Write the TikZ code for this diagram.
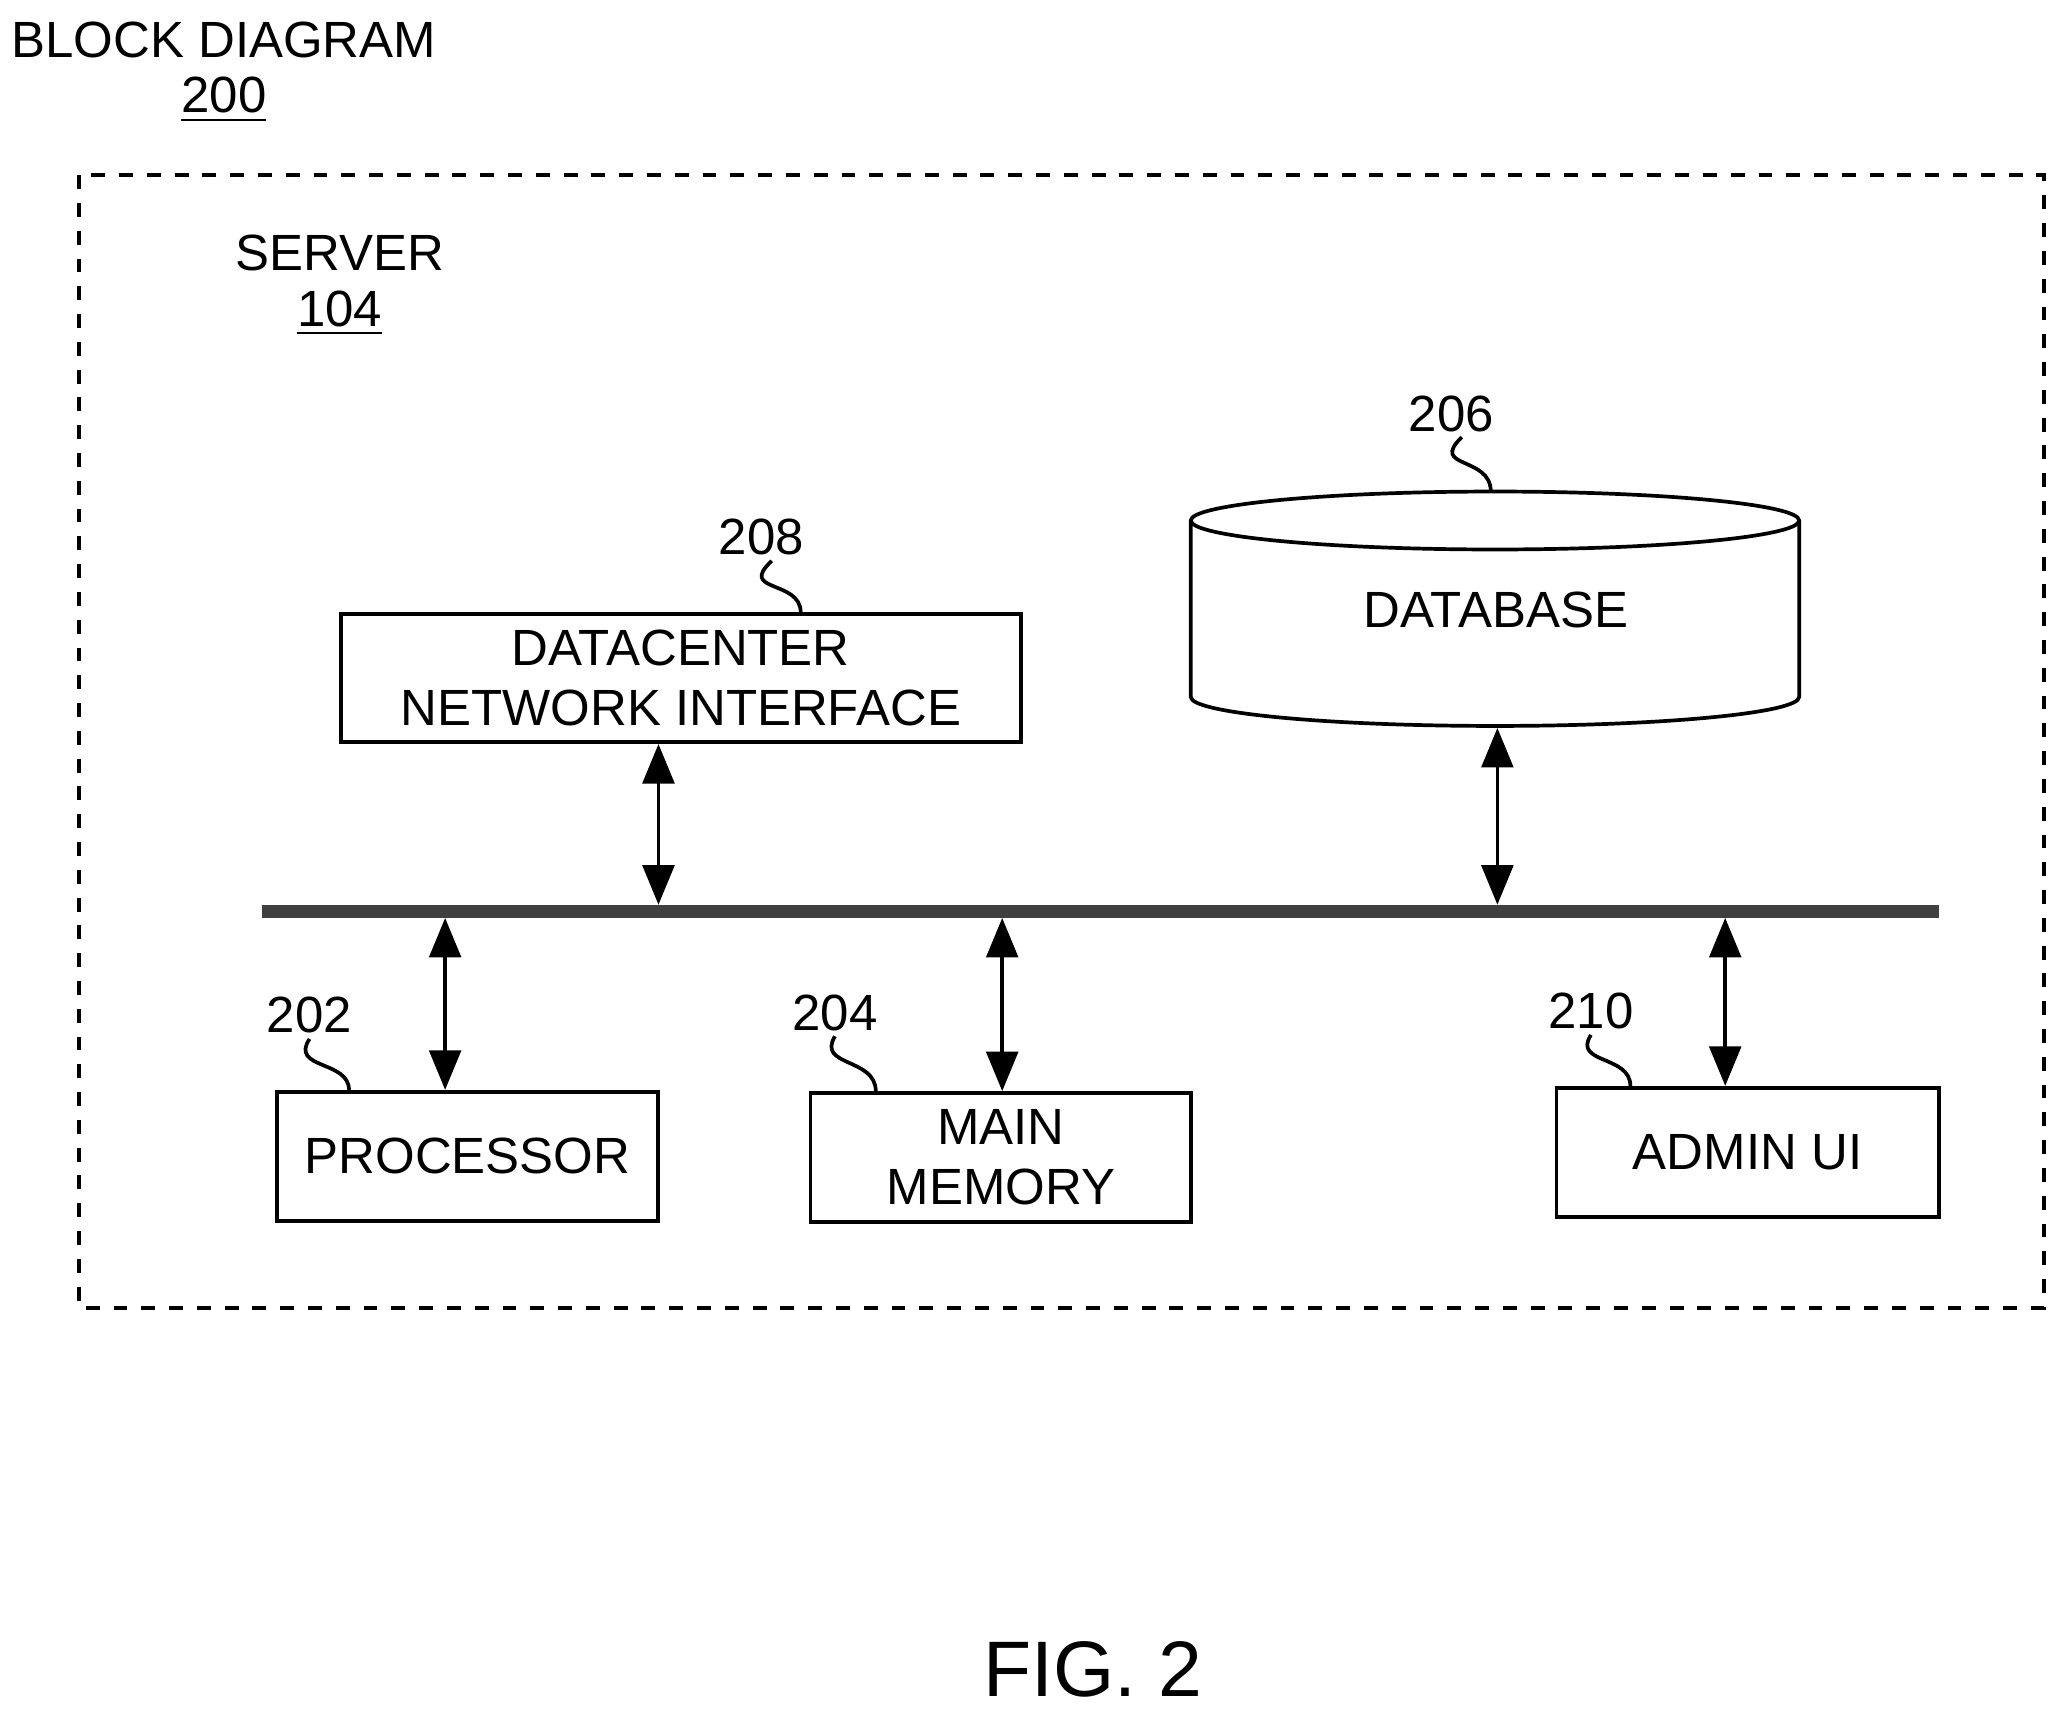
\documentclass[tikz,border=0pt]{standalone}
\usepackage{fontspec}
\setmainfont{Liberation Sans}
\usetikzlibrary{arrows.meta, positioning}

\begin{document}
\begin{tikzpicture}[
        x=0.01cm, y=-0.01cm,
        font=\fontsize{11}{13}\selectfont,
        box/.style={rectangle, draw=black, line width=0.8pt, align=center, inner sep=0pt},
        tag/.style={inner sep=1pt},
        squig/.style={line width=0.8pt},
        bus/.style={line width=0.1cm, draw=black!75},
        arrow/.style={{Triangle[length=0.3cm,width=0.24cm]}-{Triangle[length=0.3cm,width=0.24cm]}, line width=0.8pt}
    ]
        \useasboundingbox (0,0) rectangle (1568,1304);

        % Titles
        \node[tag] (title) at (170,30) {BLOCK DIAGRAM};
        \node[tag] (num) at (170,76) {\underline{200}};
        \draw[dashed, line width=0.8pt] (60,133) rectangle (1552,993);
        \node[tag] (server) at (258,192) {SERVER};
        \node[tag] (servernum) at (258,238) {\underline{104}};

        % Blocks
        \node[box, minimum width=5.16cm, minimum height=0.97cm] (dni) at (517,515) {DATACENTER\\NETWORK INTERFACE};
        \node[minimum width=4.62cm, minimum height=1.78cm, inner sep=0pt] (db) at (1136,463) {\raisebox{-0.11cm}{DATABASE}};
        \draw[line width=0.8pt] (db.north west) ++(0,22) arc[start angle=180, end angle=0, x radius=231, y radius=-22]
            -- ++(0,134) arc[start angle=0, end angle=-180, x radius=231, y radius=-22] -- cycle;
        \draw[line width=0.8pt] (db.north west) ++(0,22) arc[start angle=180, end angle=360, x radius=231, y radius=-22];
        \node[box, minimum width=2.89cm, minimum height=0.98cm] (cpu) at (355,878) {PROCESSOR};
        \node[box, minimum width=2.89cm, minimum height=0.98cm] (mem) at (760,879) {MAIN\\MEMORY};
        \node[box, minimum width=2.90cm, minimum height=0.98cm] (admin) at (1327,875) {ADMIN UI};

        % Reference numbers
        \node[tag] (n208) at (578,408) {208};
        \node[tag] (n206) at (1102,314) {206};
        \node[tag] (n202) at (235,771) {202};
        \node[tag] (n204) at (634,769) {204};
        \node[tag] (n210) at (1208,768) {210};
        \draw[squig] (n208.south) ++(8,0) .. controls (560,450) and (608,440) .. (dni.north -| 608,0);
        \draw[squig] (n206.south) ++(8,0) .. controls (1085,356) and (1132,346) .. (db.north -| 1132,0);
        \draw[squig] (n202.south) .. controls (220,812) and (265,805) .. (cpu.north -| 265,0);
        \draw[squig] (n204.south) .. controls (620,810) and (665,803) .. (mem.north -| 665,0);
        \draw[squig] (n210.south) .. controls (1194,808) and (1238,801) .. (admin.north -| 1238,0);

        % Bus
        \coordinate (busl) at (199,692);
        \coordinate (busr) at (1472,692);
        \draw[bus] (busl) -- (busr);
        \coordinate (b1) at (500,687);
        \coordinate (b2) at (1137,687);
        \coordinate (b3) at (338,697);
        \coordinate (b4) at (761,697);
        \coordinate (b5) at (1310,697);

        % Arrows
        \draw[arrow] (dni.south -| b1) -- (b1);
        \draw[arrow] (db.south -| b2) -- (b2);
        \draw[arrow] (b3) -- (cpu.north -| b3);
        \draw[arrow] (b4) -- (mem.north -| b4);
        \draw[arrow] (b5) -- (admin.north -| b5);

        \node[font=\fontsize{17}{20}\selectfont] (fig) at (830,1268) {FIG. 2};
    \end{tikzpicture}
\end{document}
